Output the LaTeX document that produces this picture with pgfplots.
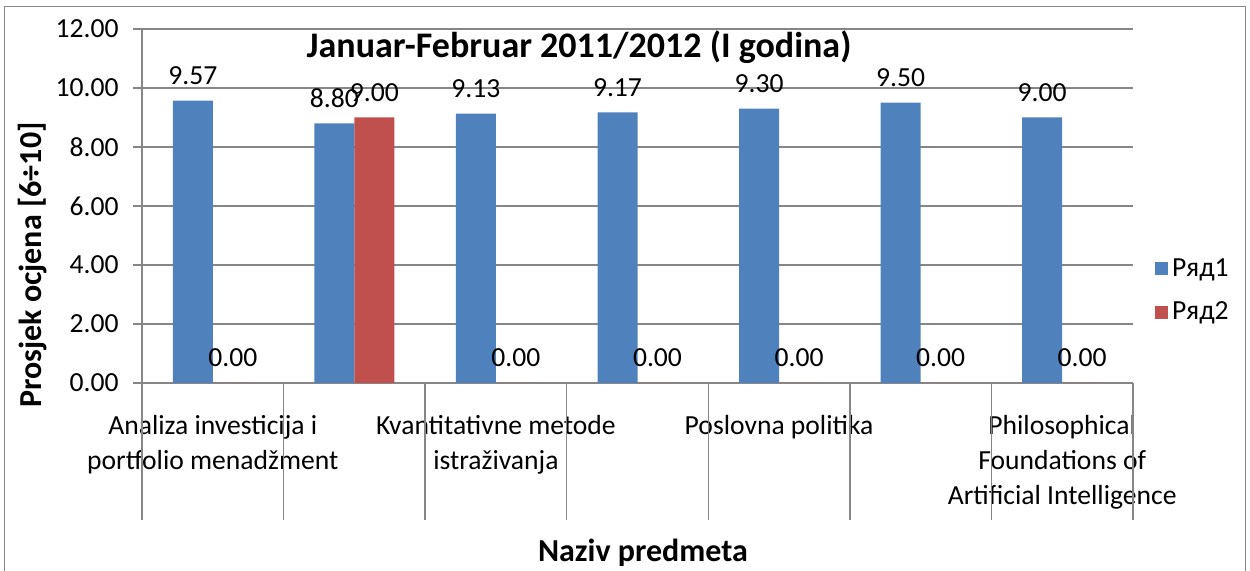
\documentclass[border=0pt]{standalone}
\usepackage{pgfplots}
\pgfplotsset{compat=1.18}
\usepackage{fontspec}
\setmainfont{Carlito}
\definecolor{s1}{HTML}{4F81BD}
\definecolor{s2}{HTML}{C0504D}
\definecolor{gr}{HTML}{868686}
\begin{document}
\begin{tikzpicture}
\useasboundingbox (0pt,0pt) rectangle (625pt,-285.5pt);
\draw[gr, line width=0.75pt] (2.25pt,-3.25pt) rectangle (622.75pt,-320pt);
\begin{axis}[
  at={(71pt,-191.5pt)}, anchor=south west,
  scale only axis, width=495.5pt, height=177pt,
  xmin=-0.5, xmax=6.5, ymin=0, ymax=12,
  /pgf/number format/assume math mode=true,
  ybar=0pt, bar width=20pt,
  axis x line*=bottom, axis y line*=left,
  axis line style={gr, line width=0.75pt, -},
  ytick={0,2,...,12},
  ymajorgrids, grid style={gr, line width=0.75pt},
  yticklabel={\pgfmathprintnumber[fixed,fixed zerofill,precision=2,assume math mode=true]{\tick}},
  tick style={gr, line width=0.75pt},
  tick align=outside, major tick length=0pt,
  tick label style={font=\fontsize{13.8}{17.5}\selectfont, text=black},
  yticklabel style={xshift=-8.2pt},
  xtick={0,2,4,6},
  xticklabels={{Analiza investicija i\\portfolio menadžment},{Kvantitativne metode\\istraživanja},{Poslovna politika},{Philosophical\\Foundations of\\Artificial Intelligence}},
  xticklabel style={align=center, yshift=-12.5pt},
  extra x ticks={-0.5,0.5,...,6.5},
  extra x tick labels={},
  extra x tick style={major tick length=68.5pt, grid=none},
  extra y ticks={0,2,...,12},
  extra y tick labels={},
  extra y tick style={major tick length=4.5pt, grid=none},
  nodes near coords={\pgfmathprintnumber[fixed,fixed zerofill,precision=2,assume math mode=true]{\pgfplotspointmeta}},
  every node near coord/.append style={font=\fontsize{13.8}{16}\selectfont, text=black, yshift=4.5pt},
  legend style={at={(1.022,0.261)}, anchor=west, draw=none, fill=none,
    font=\fontsize{13.8}{16}\selectfont, row sep=7.5pt, inner sep=0pt},
  legend cell align=left,
]
\addplot[fill=s1, draw=none, legend image code/.code={\fill[s1] (0pt,-3.25pt) rectangle (6.5pt,3.25pt);}]
  coordinates {(0,9.57) (1,8.80) (2,9.13) (3,9.17) (4,9.30) (5,9.50) (6,9.00)};
\addplot[fill=s2, draw=none, legend image code/.code={\fill[s2] (0pt,-3.25pt) rectangle (6.5pt,3.25pt);}]
  coordinates {(0,0) (1,9.00) (2,0) (3,0) (4,0) (5,0) (6,0)};
\legend{Ряд1, Ряд2}
\end{axis}
\node[font=\bfseries\fontsize{18}{21}\selectfont] at (289.5pt,-23.5pt) {Januar-Februar 2011/2012 (I godina)};
\node[font=\bfseries\fontsize{16}{19}\selectfont] at (321.5pt,-276.5pt) {Naziv predmeta};
\node[font=\bfseries\fontsize{16}{19}\selectfont, rotate=90] at (16.5pt,-132.5pt) {Prosjek ocjena [6÷10]};
\end{tikzpicture}
\end{document}
